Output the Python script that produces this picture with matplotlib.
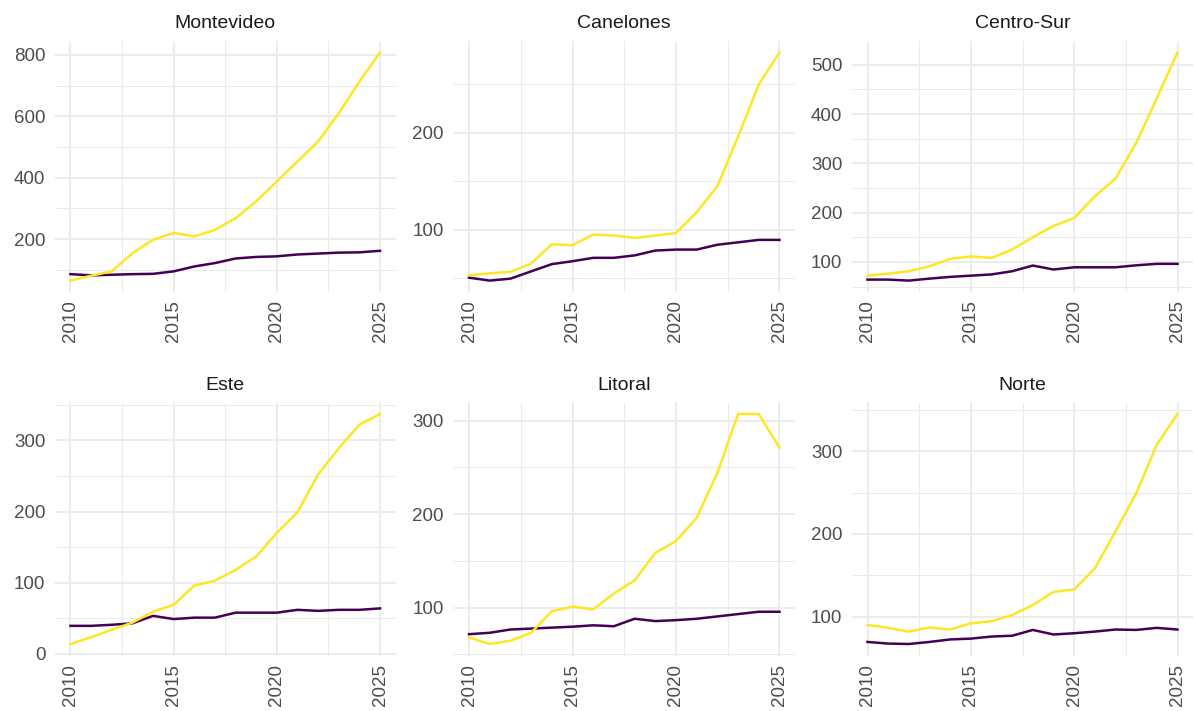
import numpy as np
import matplotlib
matplotlib.use("Agg")
import matplotlib.pyplot as plt
from matplotlib.ticker import FixedLocator

plt.rcParams["font.family"] = ["Liberation Sans", "DejaVu Sans"]

years = list(range(2010, 2026))
regions = ["Montevideo", "Canelones", "Centro-Sur", "Este", "Litoral", "Norte"]

# yellow series per region
yellow = {
    "Montevideo": [65, 81, 95, 154, 198, 220, 209, 230, 268, 323, 388, 453, 518, 610, 713, 808],
    "Canelones": [53, 55, 56.5, 65, 85, 84, 95, 94, 91.5, 94, 96.5, 118, 145, 196, 250, 283],
    "Centro-Sur": [72, 76, 81, 91, 106, 111, 108, 125, 150, 173, 189, 233, 269, 341, 432, 525],
    "Este": [14, 23.5, 34, 44, 59.5, 69, 96, 103, 118, 137, 170, 199, 252, 289, 322, 337],
    "Litoral": [68, 61, 64.5, 73, 96, 101, 98, 115, 129, 158.5, 171, 196, 244, 307, 307, 271],
    "Norte": [90, 86.5, 82, 87, 84.5, 92, 94.5, 102, 114, 130, 133, 158.5, 203, 249, 308, 345],
}

# purple series per region
purple = {
    "Montevideo": [86, 82, 84, 86, 87, 95, 111, 122, 137, 142, 144, 150, 153, 156, 157, 162],
    "Canelones": [50.5, 47.5, 49.5, 57, 64.5, 67.5, 71, 71, 73.5, 78.5, 79.5, 79.5, 84.5, 87, 89.5, 89.5],
    "Centro-Sur": [64, 64, 62, 66, 69.5, 72, 74.5, 81, 92.5, 84.5, 89, 89, 89, 93, 96, 96],
    "Este": [39.5, 39.5, 41, 43, 53.5, 49, 51, 51, 58, 58, 58, 62, 60.5, 62, 62, 64],
    "Litoral": [71.5, 73, 76.5, 77.5, 78.5, 79.5, 81, 80, 88, 85.5, 86.5, 88, 90.5, 93, 95.5, 95.5],
    "Norte": [69.5, 67.5, 67, 69.5, 72.5, 73.5, 76, 77, 84, 78.5, 80, 82, 84.5, 84, 86.5, 84.5],
}

y_breaks = {
    "Montevideo": [200, 400, 600, 800],
    "Canelones": [100, 200],
    "Centro-Sur": [100, 200, 300, 400, 500],
    "Este": [0, 100, 200, 300],
    "Litoral": [100, 200, 300],
    "Norte": [100, 200, 300],
}
x_breaks = [2010, 2015, 2020, 2025]

YELLOW = "#FDE725"
PURPLE = "#440154"
GRID = "#EBEBEB"

W, H = 1194, 711
fig = plt.figure(figsize=(W / 100, H / 100), dpi=100)

cols = [(55, 395.5), (453.5, 795), (852, 1193)]
rows = [(41, 292), (402.5, 655.5)]

for i, reg in enumerate(regions):
    (x0, x1) = cols[i % 3]
    (y0, y1) = rows[i // 3]
    ax = fig.add_axes([x0 / W, 1 - y1 / H, (x1 - x0) / W, (y1 - y0) / H])
    ax.plot(years, purple[reg], color=PURPLE, lw=1.8, zorder=3)
    ax.plot(years, yellow[reg], color=YELLOW, lw=1.8, zorder=3)
    ax.margins(x=0.05, y=0.05)

    yb = y_breaks[reg]
    step = yb[1] - yb[0]
    ax.yaxis.set_major_locator(FixedLocator(yb))
    ax.xaxis.set_major_locator(FixedLocator(x_breaks))
    ymin = [yb[0] - step / 2] + [b + step / 2 for b in yb]
    ax.yaxis.set_minor_locator(FixedLocator(ymin))
    ax.xaxis.set_minor_locator(FixedLocator([2012.5, 2017.5, 2022.5]))

    ax.grid(True, which="major", color=GRID, lw=1.3, zorder=0)
    ax.grid(True, which="minor", color=GRID, lw=0.75, zorder=0)
    ax.set_axisbelow(True)
    for s in ax.spines.values():
        s.set_visible(False)
    ax.tick_params(which="both", length=0)
    ax.tick_params(axis="y", labelsize=13.5, labelcolor="#4D4D4D", pad=7)
    ax.tick_params(axis="x", labelsize=13.5, labelcolor="#4D4D4D", pad=6, labelrotation=90)
    ax.set_title(reg, fontsize=14, color="#1A1A1A", pad=9)

fig.savefig("out.png", dpi=100, facecolor="white")
